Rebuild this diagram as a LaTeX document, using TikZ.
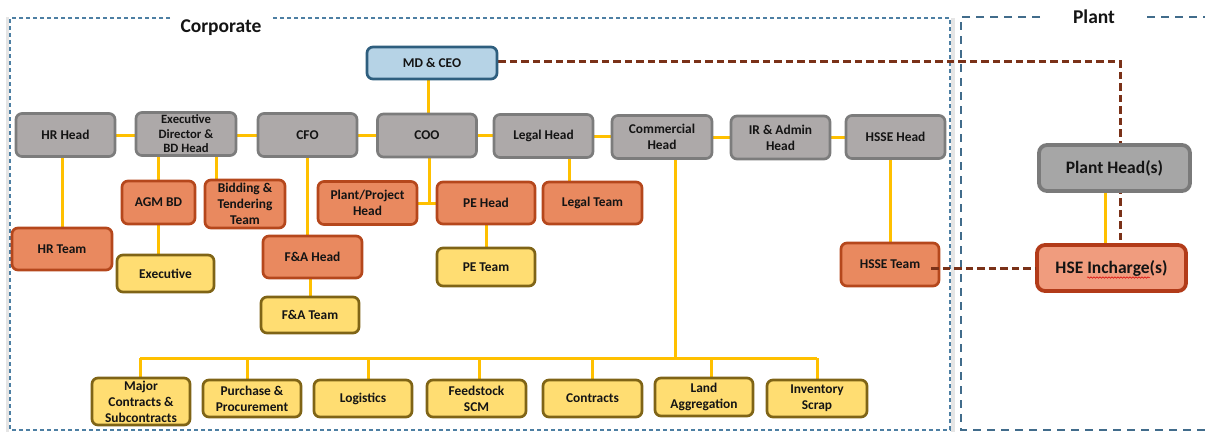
\documentclass[tikz,border=0pt]{standalone}
\usepackage{fontspec}
\setmainfont{Carlito}
\usetikzlibrary{calc,decorations.pathmorphing}
\definecolor{grayfill}{HTML}{ADA9A9}
\definecolor{grayline}{HTML}{7C7C7C}
\definecolor{mdfill}{HTML}{B6D3E6}
\definecolor{mdline}{HTML}{2E5E7E}
\definecolor{orfill}{HTML}{E9895F}
\definecolor{orline}{HTML}{B5471C}
\definecolor{yelfill}{HTML}{FFDD72}
\definecolor{yelline}{HTML}{7F6416}
\definecolor{linkyel}{HTML}{FFC000}
\definecolor{depbrown}{HTML}{7A3118}
\definecolor{framec}{HTML}{4D7FA3}
\definecolor{phfill}{HTML}{A6A6A6}
\definecolor{phline}{HTML}{7A7A7A}
\definecolor{hsefill}{HTML}{F09C7E}
\definecolor{hseline}{HTML}{B23B19}
\definecolor{txt}{HTML}{141414}
\pgfdeclarelayer{frames}
\pgfdeclarelayer{conn}
\pgfsetlayers{frames,conn,main}
\begin{document}
\begin{tikzpicture}[x=1pt,y=-1pt,
  box/.style={rectangle, rounded corners=6pt, line width=2.7pt, inner sep=0pt,
    align=center, text=txt, font=\bfseries\fontsize{13.4}{16}\selectfont},
  graybox/.style={box, fill=grayfill, draw=grayline, minimum width=99pt, minimum height=43pt},
  orbox/.style={box, fill=orfill, draw=orline, minimum width=99pt, minimum height=42pt},
  yelbox/.style={box, fill=yelfill, draw=yelline, minimum width=98pt, minimum height=37pt},
  link/.style={draw=linkyel, line width=3pt},
  dep/.style={draw=depbrown, line width=3pt, dash pattern=on 7.5pt off 4pt},
  corpframe/.style={draw=framec, line width=1.3pt, dash pattern=on 4pt off 3pt},
  plantframe/.style={draw=framec!85!black, line width=1.6pt, dash pattern=on 8pt off 6pt},
  title/.style={font=\bfseries\fontsize{19.5}{22}\selectfont, text=txt, inner sep=0pt}
]
\useasboundingbox (0,0) rectangle (1205,432);

% frames
\begin{pgfonlayer}{frames}
\fill[black!10] (6,17) rectangle (9,432);
\fill[black!10] (951,18) rectangle (955,432);
\draw[corpframe] (170,18) -- (10,18) -- (10,430) -- (950,430) -- (950,18) -- (272,18);
\draw[plantframe] (1040,17) -- (961,17) -- (961,430) -- (1210,430);
\draw[plantframe] (1147,17) -- (1210,17);
\end{pgfonlayer}
\node[title] (corp) at (221,28) {Corporate};
\node[title] (plant) at (1094,17) {Plant};

% top
\node[box, fill=mdfill, draw=mdline, minimum width=130pt, minimum height=32pt] (md) at (432,63) {MD \& CEO};

% row 2
\node[graybox] (hrh) at (65.5,135) {HR Head};
\node[graybox, minimum width=100pt, font=\bfseries\fontsize{12.7}{14.5}\selectfont] (edh) at (186,134) {Executive\\Director \&\\BD Head};
\node[graybox] (cfo) at (307.5,135) {CFO};
\node[graybox] (coo) at (427,135.5) {COO};
\node[graybox] (legal) at (543.5,136) {Legal Head};
\node[graybox, minimum width=100pt] (comm) at (662,137) {Commercial\\Head};
\node[graybox] (ir) at (780.5,137.5) {IR \& Admin\\Head};
\node[graybox] (hsse) at (895.5,137) {HSSE Head};

% orange
\node[orbox, minimum width=73pt, minimum height=43pt] (agm) at (158.5,202.5) {AGM BD};
\node[orbox, minimum width=80pt, minimum height=48pt] (bid) at (245,204) {Bidding \&\\Tendering\\Team};
\node[orbox, minimum height=43pt] (ppj) at (367.5,203) {Plant/Project\\Head};
\node[orbox, minimum width=98pt] (peh) at (486,203) {PE Head};
\node[orbox] (legt) at (592.5,203) {Legal Team};
\node[orbox, minimum width=100pt] (hrt) at (62,249) {HR Team};
\node[orbox] (fah) at (312.5,257) {F\&A Head};
\node[orbox, minimum width=98pt, minimum height=43pt] (hsset) at (890,264.5) {HSSE Team};

% yellow
\node[yelbox, minimum width=97pt] (exe) at (165.5,273.5) {Executive};
\node[yelbox, minimum height=36pt] (fat) at (310,315) {F\&A Team};
\node[yelbox, minimum height=38pt] (pet) at (486,267) {PE Team};

% bottom row
\node[yelbox, minimum height=47pt] (b1) at (141,401.5) {Major\\Contracts \&\\Subcontracts};
\node[yelbox] (b2) at (252,398.5) {Purchase \&\\Procurement};
\node[yelbox] (b3) at (363,398.5) {Logistics};
\node[yelbox, minimum width=99pt] (b4) at (476.5,398.5) {Feedstock\\SCM};
\node[yelbox, minimum width=99pt] (b5) at (592.5,398.5) {Contracts};
\node[yelbox, minimum height=38pt] (b6) at (704,397) {Land\\Aggregation};
\node[yelbox, minimum width=100pt] (b7) at (817,398.5) {Inventory\\Scrap};

% plant
\node[box, fill=phfill, draw=phline, line width=3.8pt, rounded corners=8pt, minimum width=151pt, minimum height=46pt,
  font=\bfseries\fontsize{17.5}{20}\selectfont] (ph) at (1114.5,168) {Plant Head(s)};
\node[box, fill=hsefill, draw=hseline, line width=3.8pt, rounded corners=8pt, minimum width=149pt, minimum height=46pt,
  font=\bfseries\fontsize{17.5}{20}\selectfont] (hse) at (1111.5,268) {HSE Incharge(s)};
\draw[red!85!black, line width=0.5pt, decorate, decoration={snake, amplitude=0.7pt, segment length=3pt}]
  ([xshift=-24.5pt,yshift=-9.5pt]hse.center) -- ([xshift=38.5pt,yshift=-9.5pt]hse.center);

\coordinate (bus) at (675,358);
\coordinate (corner) at (1120,0);

% connectors
\begin{pgfonlayer}{conn}
\draw[link] (hrh.east) -- (edh.west |- hrh.east);
\draw[link] (edh.east |- cfo.west) -- (cfo.west);
\draw[link] (cfo.east) -- (coo.west |- cfo.east);
\draw[link] (coo.east) -- (legal.west |- coo.east);
\draw[link] (legal.east) -- (comm.west |- legal.east);
\draw[link] (comm.east) -- (ir.west |- comm.east);
\draw[link] (ir.east) -- (hsse.west |- ir.east);
\draw[link] ([xshift=-4pt]md.south) -- ([xshift=-4pt]md.south |- coo.north);
\draw[link] (hrt.north) -- (hrt.north |- hrh.south);
\draw[link] (agm.north) -- (agm.north |- edh.south);
\draw[link] ([xshift=-29pt]bid.north) -- ([xshift=-29pt]bid.north |- edh.south);
\draw[link] (agm.south) -- (agm.south |- exe.north);
\draw[link] (cfo.south) -- (cfo.south |- fah.north);
\draw[link] (fat.north) -- (fat.north |- fah.south);
\draw[link] ([xshift=2pt]coo.south) -- ([xshift=2pt]coo.south |- peh.west);
\draw[link] (ppj.east) -- (peh.west);
\draw[link] ([xshift=-23.5pt]legt.north) -- ([xshift=-23.5pt]legt.north |- legal.south);
\draw[link] (peh.south) -- (pet.north);
\draw[link] (bus |- comm.south) -- (bus);
\draw[link] ([xshift=-1pt]b1.north |- bus) -- (b7.north |- bus);
\foreach \b/\s in {b1/-1pt,b2/-5pt,b3/5pt,b4/2.5pt,b5/0pt,b6/7pt,b7/0pt}
  \draw[link] ([xshift=\s]\b.north) -- ([xshift=\s]\b.north |- bus);
\draw[link] (hsset.north) -- (hsset.north |- hsse.south);
\draw[link] ([xshift=-9.5pt]ph.south) -- ([xshift=-9.5pt]ph.south |- hse.north);
\draw[dep] ([yshift=2pt]md.east) -- ([yshift=2pt]md.east -| corner) -- (corner |- hse.north);
\end{pgfonlayer}
\draw[dep] ([xshift=-9pt]hsset.east |- hse.west) -- (hse.west);
\end{tikzpicture}
\end{document}
